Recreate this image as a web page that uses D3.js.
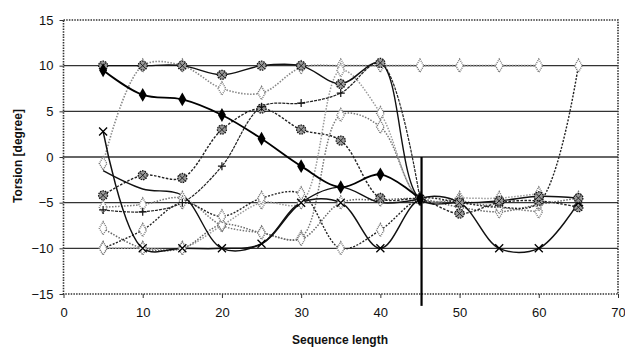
<!DOCTYPE html>
<html>
<head>
<meta charset="utf-8">
<script src="https://cdn.jsdelivr.net/npm/d3@7"></script>
<style>
  body { margin: 0; background: #fff; }
  svg { font-family: "Liberation Sans", Arial, sans-serif; }
  .grid { stroke: #333; stroke-width: 1.3; }
  .frame { stroke: #333; stroke-width: 1.6; stroke-dasharray: 1.5, 1.2; fill: none; }
  .tick text { font-size: 13px; fill: #111; }
  .title { font-size: 12px; font-weight: bold; fill: #111; }
</style>
</head>
<body>
<svg id="chart" width="625" height="347"></svg>
<script>
const svg = d3.select("#chart");
const margin = { top: 20, right: 7, bottom: 53, left: 63.5 };
const width = +svg.attr("width") - margin.left - margin.right;
const height = +svg.attr("height") - margin.top - margin.bottom;

// sequence lengths
const xs = [5, 10, 15, 20, 25, 30, 35, 40, 45, 50, 55, 60, 65];
const xTicks = [0, 10, 20, 30, 40, 50, 60, 70];
const yTicks = [-15, -10, -5, 0, 5, 10, 15];
const gridValues = [-10, -5, 0, 5, 10];

// torsion values, one list per series
const s1 = [9.5, 6.8, 6.3, 4.6, 2.0, -1.0, -3.3, -1.9, -4.6];
const s2 = [10, 10, 10, 9, 10, 10, 8, 10.3, -4.6, -5, -4.8, -4.3, -4.5];
const s3 = [-0.7, 10, 10, 7.5, 7, 9.8, 10, 10, 10, 10, 10, 10];
const s4 = [-4.2, -2, -2.3, 3, 5.3, 3, 1.8, -4.5, -4.6, -6.2, -5, -4.8, -5.5];
const s5 = [-5.8, -6, -5, -1, 5.5, 5.9, 7, 10.3, -4.6];
const s6 = [-7.8, -10, -10, -7.4, -8.3, -9, -5, -4.7, -4.6, -5.5, -6, -5.2, -4.5];
const s7 = [-10, -8, -5, -6.5, -4.5, -4, -10, -8, -4.6, -5, -5.5, -5, 10];
const s8 = [2.8, -10, -10, -10, -9.5, -5, -5, -10, -4.6, -5, -10, -10, -5];
const s9 = [-1.5, -3.5, -4.2, -10, -9.5, -5, -3.3, -5, -4.6];
const s10 = [-5.5, -5.2, -4.5, -7.5, -8.3, -8.8, 4.6, 3.3, -4.6, -4.8, -5.5, -6];
const s11 = [-10, -10, -10, -7.5, -5, -5, 9.5, 4.8, -4.6, -4.5, -4.5, -4];

const seriesList = [
  { values: s3, stroke: "#888", width: 1.6, dash: "1.5,1.5", marker: "open" },
  { values: s11, stroke: "#999", width: 1.5, dash: "1.5,1.5", marker: "open" },
  { values: s10, stroke: "#777", width: 1.5, dash: "1.5,1.5", marker: "open" },
  { values: s6, stroke: "#666", width: 1.5, dash: "1.5,1.5", marker: "open" },
  { values: s7, stroke: "#222", width: 1.4, dash: "2,1.5", marker: "open" },
  { values: s4, stroke: "#222", width: 1.4, dash: "2.5,1.5", marker: "hatch" },
  { values: s5, stroke: "#222", width: 1.2, dash: "3,1", marker: "plus" },
  { values: s9, stroke: "#111", width: 1.4, dash: null, marker: "none" },
  { values: s8, stroke: "#111", width: 1.5, dash: null, marker: "cross" },
  { values: s2, stroke: "#111", width: 1.4, dash: null, marker: "hatch" },
  { values: s1, stroke: "#000", width: 1.8, dash: null, marker: "diamond" }
];

// vertical marker line
const vLine = { x: 45.2, y1: 0, y2: -16.3 };

const x = d3.scaleLinear().domain([0, 70]).range([0, width]);
const y = d3.scaleLinear().domain([-15, 15]).range([height, 0]);

const g = svg.append("g")
  .attr("transform", "translate(" + margin.left + "," + margin.top + ")");

// gridlines
g.selectAll("line.grid")
  .data(gridValues)
  .join("line")
  .attr("class", "grid")
  .attr("x1", 0).attr("x2", width)
  .attr("y1", d => y(d)).attr("y2", d => y(d));

// dotted frame
g.append("rect")
  .attr("class", "frame")
  .attr("x", 0).attr("y", 0)
  .attr("width", width).attr("height", height);

// axes
const yAxis = g.append("g")
  .call(d3.axisLeft(y).tickValues(yTicks).tickSize(4).tickPadding(6));
yAxis.select(".domain").remove();
yAxis.selectAll(".tick line").attr("stroke", "#333");

const xAxis = g.append("g")
  .attr("transform", "translate(0," + height + ")")
  .call(d3.axisBottom(x).tickValues(xTicks).tickSize(4).tickPadding(10));
xAxis.select(".domain").remove();
xAxis.selectAll(".tick line").attr("stroke", "#333");

// series lines
const line = d3.line()
  .x((d, i) => x(xs[i]))
  .y(d => y(d))
  .curve(d3.curveCatmullRom.alpha(0.5));

seriesList.forEach(s => {
  g.append("path")
    .attr("d", line(s.values))
    .attr("fill", "none")
    .attr("stroke", s.stroke)
    .attr("stroke-width", s.width)
    .attr("stroke-dasharray", s.dash);
});

// markers
const diamond = d3.symbol().type(d3.symbolDiamond);
seriesList.forEach(s => {
  if (s.marker === "none") return;
  const m = g.append("g").selectAll("g")
    .data(s.values)
    .join("g")
    .attr("transform", (d, i) => "translate(" + x(xs[i]) + "," + y(d) + ")");
  if (s.marker === "diamond") {
    m.append("path").attr("d", diamond.size(55)()).attr("fill", "#000");
  } else if (s.marker === "open") {
    m.append("path").attr("d", diamond.size(50)())
      .attr("fill", "#fff").attr("stroke", "#777")
      .attr("stroke-width", 1.4).attr("stroke-dasharray", "1,1");
  } else if (s.marker === "hatch") {
    m.append("circle").attr("r", 4.5).attr("fill", "#999")
      .attr("stroke", "#111").attr("stroke-width", 1.3).attr("stroke-dasharray", "1.5,1");
    m.append("path").attr("d", "M-3,-3L3,3M-3,3L3,-3").attr("stroke", "#222").attr("stroke-width", 1);
  } else if (s.marker === "cross") {
    m.append("path").attr("d", "M-4,-4L4,4M-4,4L4,-4").attr("stroke", "#000").attr("stroke-width", 1.3);
  } else if (s.marker === "plus") {
    m.append("path").attr("d", "M-4,0L4,0M0,-4L0,4").attr("stroke", "#111").attr("stroke-width", 1.2);
  }
});

// vertical line
g.append("line")
  .attr("x1", x(vLine.x)).attr("x2", x(vLine.x))
  .attr("y1", y(vLine.y1)).attr("y2", y(vLine.y2))
  .attr("stroke", "#000").attr("stroke-width", 2.2);

// titles
svg.append("text")
  .attr("class", "title")
  .attr("x", 340).attr("y", 344)
  .attr("text-anchor", "middle")
  .text("Sequence length");

svg.append("text")
  .attr("class", "title")
  .attr("transform", "translate(22,156) rotate(-90)")
  .attr("text-anchor", "middle")
  .text("Torsion [degree]");
</script>
</body>
</html>
